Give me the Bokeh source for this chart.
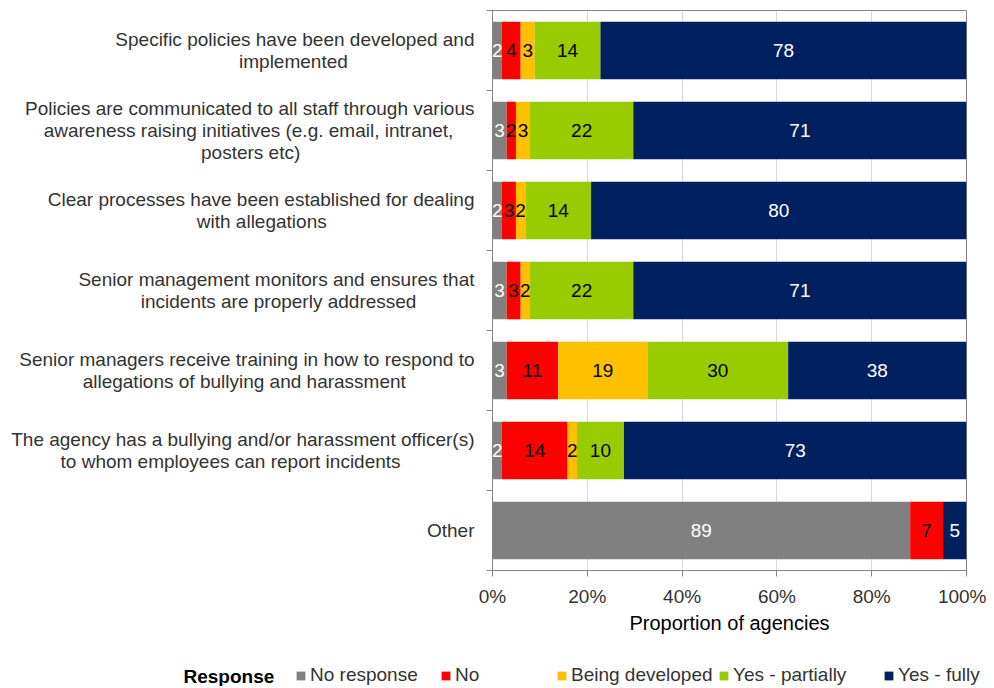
from bokeh.plotting import figure
from bokeh.models import (ColumnDataSource, Legend, LegendItem, Label,
                          NumeralTickFormatter, FixedTicker, Range1d)
from bokeh.core.properties import value
from bokeh.embed import file_html
from bokeh.resources import INLINE

category_lines = [
    ["Specific policies have been developed and", "implemented"],
    ["Policies are communicated to all staff through various",
     "awareness raising initiatives (e.g. email, intranet,", "posters etc)"],
    ["Clear processes have been established for dealing", "with allegations"],
    ["Senior management monitors and ensures that", "incidents are properly addressed"],
    ["Senior managers receive training in how to respond to",
     "allegations of bullying and harassment"],
    ["The agency has a bullying and/or harassment officer(s)",
     "to whom employees can report incidents"],
    ["Other"],
]
series = ["No response", "No", "Being developed", "Yes - partially", "Yes - fully"]
no_response = [2, 3, 2, 3, 3, 2, 89]
no = [4, 2, 3, 3, 11, 14, 7]
being_developed = [3, 3, 2, 2, 19, 2, 0]
yes_partially = [14, 22, 14, 22, 30, 10, 0]
yes_fully = [78, 71, 80, 71, 38, 73, 5]
x_ticks = [0, 0.2, 0.4, 0.6, 0.8, 1.0]

# layout only: trailing no-break spaces so that the wrapped lines look centred
line_pad = [[0, 24], [0, 4, 33], [0, 28], [0, 11], [0, 13], [0, 14], [0]]

colors = ["#808080", "#FF0000", "#FFC000", "#99CC00", "#002060"]
label_colors = ["white", "black", "black", "black", "white"]
FONT = "Liberation Sans"
TXT = "#333333"

categories = ["\n".join(l + "\u00a0" * k for l, k in zip(lines, pads))
              for lines, pads in zip(category_lines, line_pad)]
n = len(categories)
ypos = [n - 1 - i for i in range(n)]          # first category on top
values = [no_response, no, being_developed, yes_partially, yes_fully]
totals = [sum(v[i] for v in values) for i in range(n)]

p = figure(width=986, height=655, output_backend="svg", toolbar_location=None,
           y_range=Range1d(-0.5, n - 0.5), x_range=Range1d(0, 1),
           min_border_left=492, min_border_right=20, min_border_top=10, min_border_bottom=85)

sources = []
left = [0.0] * n
for k, name in enumerate(series):
    frac = [values[k][i] / totals[i] for i in range(n)]
    right = [left[i] + frac[i] for i in range(n)]
    src = ColumnDataSource(dict(y=ypos, left=left, right=right,
                                mid=[(left[i] + right[i]) / 2 for i in range(n)],
                                lab=[str(v) if v > 0 else "" for v in values[k]]))
    sources.append(src)
    p.hbar(y="y", left="left", right="right", height=0.72, source=src,
           fill_color=colors[k], line_color=None)
    p.text(x="mid", y="y", text="lab", source=src, text_align="center",
           text_baseline="middle", text_font=value(FONT), text_font_size="19px",
           text_color=label_colors[k])
    left = right

p.xaxis.ticker = FixedTicker(ticks=x_ticks)
p.xaxis.formatter = NumeralTickFormatter(format="0%")
p.xaxis.axis_label = "Proportion of agencies"
p.xaxis.axis_label_text_font = FONT
p.xaxis.axis_label_text_font_style = "normal"
p.xaxis.axis_label_text_font_size = "20px"
p.xaxis.axis_label_text_color = "black"
p.xaxis.axis_label_standoff = 2
p.xaxis.major_label_text_font = FONT
p.xaxis.major_label_text_font_size = "19px"
p.xaxis.major_label_text_color = TXT
p.xaxis.major_label_standoff = 9
p.xaxis.axis_line_color = "#868686"
p.xaxis.major_tick_line_color = "#868686"
p.xaxis.major_tick_out = 6
p.xaxis.major_tick_in = 0
p.xaxis.minor_tick_line_color = None

p.yaxis.ticker = FixedTicker(ticks=ypos, minor_ticks=[i - 0.5 for i in range(n + 1)])
p.yaxis.major_label_overrides = {ypos[i]: categories[i] for i in range(n)}
p.yaxis.major_label_text_font = FONT
p.yaxis.major_label_text_font_size = "19px"
p.yaxis.major_label_text_color = TXT
p.yaxis.major_label_text_line_height = 1.05
p.yaxis.major_label_standoff = 12
p.yaxis.major_tick_line_color = None
p.yaxis.major_tick_out = 6
p.yaxis.minor_tick_line_color = "#868686"
p.yaxis.minor_tick_out = 6
p.yaxis.minor_tick_in = 0
p.yaxis.axis_line_color = "#868686"

p.ygrid.grid_line_color = None
p.xgrid.grid_line_color = "#d9d9d9"
p.outline_line_color = "#868686"

# legend strip (separate root so that its frame spans the full width);
# its renderers share the data but lie well outside its visible ranges
lg = figure(width=986, height=31, output_backend="svg", toolbar_location=None,
            x_range=Range1d(-100, -99), y_range=Range1d(-100, -99), min_border=0,
            x_axis_location=None, y_axis_location=None, outline_line_color=None)
lg.grid.visible = False
legend_x = [295, 440, 556, 718, 883]
for k, name in enumerate(series):
    r = lg.hbar(y="y", left="left", right="right", height=0.72, source=sources[k],
                fill_color=colors[k], line_color=None)
    leg = Legend(items=[LegendItem(label=name, renderers=[r], index=0)], location=(legend_x[k], 0),
                 glyph_width=11, glyph_height=11, label_standoff=4,
                 label_text_font=FONT, label_text_font_size="19px",
                 label_text_color=TXT, padding=0, margin=0,
                 border_line_color=None, background_fill_alpha=0)
    lg.add_layout(leg, "center")

resp = Label(x=183, y=10, x_units="screen", y_units="screen", text="Response",
             text_font=FONT, text_font_style="bold", text_font_size="19px",
             text_baseline="middle", text_color="black")
lg.add_layout(resp)

open("out.html", "w").write(file_html([p, lg], INLINE))
